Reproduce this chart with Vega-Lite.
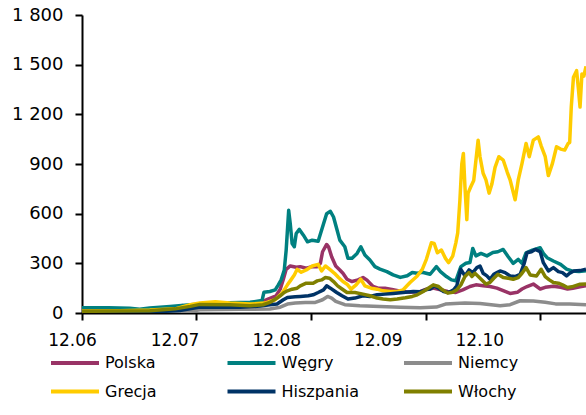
{
  "$schema": "https://vega.github.io/schema/vega-lite/v6.json",
  "width": 504,
  "height": 298,
  "autosize": {"type": "none"},
  "padding": {"left": 82, "top": 15, "right": 0, "bottom": 102},
  "background": "white",
  "config": {"view": {"stroke": null}, "font": "DejaVu Sans"},
  "data": {"values": [
    {"d":"2006-12-01","s":"Polska","v":15},{"d":"2007-04-01","s":"Polska","v":16},{"d":"2007-07-05","s":"Polska","v":18},{"d":"2007-09-24","s":"Polska","v":30},{"d":"2007-10-16","s":"Polska","v":45},{"d":"2007-10-28","s":"Polska","v":30},{"d":"2007-12-12","s":"Polska","v":45},{"d":"2008-03-17","s":"Polska","v":45},{"d":"2008-06-05","s":"Polska","v":55},{"d":"2008-06-30","s":"Polska","v":70},{"d":"2008-07-16","s":"Polska","v":84},{"d":"2008-08-11","s":"Polska","v":104},{"d":"2008-08-24","s":"Polska","v":144},{"d":"2008-09-03","s":"Polska","v":204},{"d":"2008-09-12","s":"Polska","v":264},{"d":"2008-09-25","s":"Polska","v":284},{"d":"2008-10-14","s":"Polska","v":276},{"d":"2008-10-27","s":"Polska","v":280},{"d":"2008-11-15","s":"Polska","v":270},{"d":"2008-12-04","s":"Polska","v":280},{"d":"2008-12-20","s":"Polska","v":280},{"d":"2008-12-30","s":"Polska","v":300},{"d":"2009-01-06","s":"Polska","v":370},{"d":"2009-01-19","s":"Polska","v":414},{"d":"2009-01-25","s":"Polska","v":400},{"d":"2009-02-04","s":"Polska","v":340},{"d":"2009-02-17","s":"Polska","v":284},{"d":"2009-03-02","s":"Polska","v":260},{"d":"2009-03-12","s":"Polska","v":240},{"d":"2009-03-25","s":"Polska","v":204},{"d":"2009-04-10","s":"Polska","v":190},{"d":"2009-04-29","s":"Polska","v":200},{"d":"2009-05-15","s":"Polska","v":214},{"d":"2009-05-27","s":"Polska","v":200},{"d":"2009-06-16","s":"Polska","v":160},{"d":"2009-07-02","s":"Polska","v":150},{"d":"2009-07-24","s":"Polska","v":150},{"d":"2009-08-19","s":"Polska","v":140},{"d":"2009-09-11","s":"Polska","v":132},{"d":"2009-10-12","s":"Polska","v":126},{"d":"2009-11-14","s":"Polska","v":130},{"d":"2009-12-03","s":"Polska","v":144},{"d":"2009-12-25","s":"Polska","v":150},{"d":"2010-01-17","s":"Polska","v":140},{"d":"2010-02-09","s":"Polska","v":130},{"d":"2010-03-07","s":"Polska","v":124},{"d":"2010-03-29","s":"Polska","v":140},{"d":"2010-04-21","s":"Polska","v":160},{"d":"2010-05-10","s":"Polska","v":170},{"d":"2010-06-02","s":"Polska","v":165},{"d":"2010-06-24","s":"Polska","v":160},{"d":"2010-07-16","s":"Polska","v":150},{"d":"2010-08-05","s":"Polska","v":135},{"d":"2010-08-27","s":"Polska","v":118},{"d":"2010-09-19","s":"Polska","v":125},{"d":"2010-10-04","s":"Polska","v":145},{"d":"2010-10-20","s":"Polska","v":160},{"d":"2010-11-09","s":"Polska","v":175},{"d":"2010-12-01","s":"Polska","v":145},{"d":"2010-12-17","s":"Polska","v":155},{"d":"2011-01-12","s":"Polska","v":162},{"d":"2011-02-04","s":"Polska","v":155},{"d":"2011-02-26","s":"Polska","v":145},{"d":"2011-03-15","s":"Polska","v":150},{"d":"2011-04-07","s":"Polska","v":158},{"d":"2011-04-26","s":"Polska","v":164},

    {"d":"2006-12-01","s":"Węgry","v":32},{"d":"2007-02-23","s":"Węgry","v":32},{"d":"2007-05-02","s":"Węgry","v":28},{"d":"2007-06-03","s":"Węgry","v":22},{"d":"2007-07-05","s":"Węgry","v":30},{"d":"2007-09-08","s":"Węgry","v":40},{"d":"2007-11-11","s":"Węgry","v":50},{"d":"2008-02-15","s":"Węgry","v":60},{"d":"2008-05-20","s":"Węgry","v":65},{"d":"2008-06-27","s":"Węgry","v":75},{"d":"2008-07-03","s":"Węgry","v":125},{"d":"2008-07-22","s":"Węgry","v":130},{"d":"2008-08-08","s":"Węgry","v":140},{"d":"2008-08-18","s":"Węgry","v":170},{"d":"2008-08-27","s":"Węgry","v":200},{"d":"2008-09-06","s":"Węgry","v":260},{"d":"2008-09-12","s":"Węgry","v":380},{"d":"2008-09-20","s":"Węgry","v":620},{"d":"2008-09-25","s":"Węgry","v":540},{"d":"2008-10-01","s":"Węgry","v":420},{"d":"2008-10-08","s":"Węgry","v":400},{"d":"2008-10-14","s":"Węgry","v":480},{"d":"2008-10-24","s":"Węgry","v":505},{"d":"2008-11-06","s":"Węgry","v":470},{"d":"2008-11-19","s":"Węgry","v":430},{"d":"2008-12-04","s":"Węgry","v":440},{"d":"2008-12-23","s":"Węgry","v":434},{"d":"2009-01-06","s":"Węgry","v":520},{"d":"2009-01-19","s":"Węgry","v":600},{"d":"2009-01-31","s":"Węgry","v":614},{"d":"2009-02-10","s":"Węgry","v":580},{"d":"2009-02-20","s":"Węgry","v":510},{"d":"2009-03-02","s":"Węgry","v":440},{"d":"2009-03-18","s":"Węgry","v":400},{"d":"2009-03-28","s":"Węgry","v":330},{"d":"2009-04-10","s":"Węgry","v":330},{"d":"2009-04-26","s":"Węgry","v":360},{"d":"2009-05-08","s":"Węgry","v":400},{"d":"2009-05-21","s":"Węgry","v":350},{"d":"2009-06-06","s":"Węgry","v":320},{"d":"2009-06-22","s":"Węgry","v":280},{"d":"2009-07-08","s":"Węgry","v":265},{"d":"2009-07-30","s":"Węgry","v":250},{"d":"2009-08-19","s":"Węgry","v":230},{"d":"2009-09-11","s":"Węgry","v":215},{"d":"2009-10-03","s":"Węgry","v":225},{"d":"2009-10-19","s":"Węgry","v":245},{"d":"2009-11-04","s":"Węgry","v":240},{"d":"2009-11-20","s":"Węgry","v":246},{"d":"2009-12-15","s":"Węgry","v":234},{"d":"2010-01-04","s":"Węgry","v":280},{"d":"2010-01-17","s":"Węgry","v":250},{"d":"2010-02-05","s":"Węgry","v":220},{"d":"2010-02-21","s":"Węgry","v":200},{"d":"2010-03-07","s":"Węgry","v":195},{"d":"2010-03-23","s":"Węgry","v":280},{"d":"2010-04-08","s":"Węgry","v":300},{"d":"2010-04-21","s":"Węgry","v":305},{"d":"2010-04-30","s":"Węgry","v":390},{"d":"2010-05-10","s":"Węgry","v":345},{"d":"2010-05-26","s":"Węgry","v":360},{"d":"2010-06-14","s":"Węgry","v":345},{"d":"2010-07-03","s":"Węgry","v":365},{"d":"2010-07-19","s":"Węgry","v":370},{"d":"2010-08-05","s":"Węgry","v":384},{"d":"2010-08-21","s":"Węgry","v":340},{"d":"2010-09-06","s":"Węgry","v":300},{"d":"2010-09-22","s":"Węgry","v":324},{"d":"2010-10-04","s":"Węgry","v":300},{"d":"2010-10-17","s":"Węgry","v":364},{"d":"2010-11-06","s":"Węgry","v":380},{"d":"2010-12-01","s":"Węgry","v":394},{"d":"2010-12-11","s":"Węgry","v":360},{"d":"2010-12-23","s":"Węgry","v":334},{"d":"2011-01-12","s":"Węgry","v":314},{"d":"2011-02-04","s":"Węgry","v":294},{"d":"2011-02-23","s":"Węgry","v":265},{"d":"2011-03-12","s":"Węgry","v":254},{"d":"2011-04-04","s":"Węgry","v":250},{"d":"2011-04-26","s":"Węgry","v":255},

    {"d":"2006-12-01","s":"Niemcy","v":4},{"d":"2007-07-05","s":"Niemcy","v":5},{"d":"2007-11-11","s":"Niemcy","v":10},{"d":"2007-12-12","s":"Niemcy","v":20},{"d":"2008-04-18","s":"Niemcy","v":22},{"d":"2008-07-22","s":"Niemcy","v":24},{"d":"2008-08-24","s":"Niemcy","v":35},{"d":"2008-09-16","s":"Niemcy","v":54},{"d":"2008-10-11","s":"Niemcy","v":60},{"d":"2008-11-12","s":"Niemcy","v":64},{"d":"2008-12-14","s":"Niemcy","v":64},{"d":"2009-01-06","s":"Niemcy","v":80},{"d":"2009-01-22","s":"Niemcy","v":100},{"d":"2009-02-04","s":"Niemcy","v":90},{"d":"2009-02-17","s":"Niemcy","v":70},{"d":"2009-03-18","s":"Niemcy","v":50},{"d":"2009-05-05","s":"Niemcy","v":44},{"d":"2009-07-08","s":"Niemcy","v":40},{"d":"2009-09-11","s":"Niemcy","v":35},{"d":"2009-11-14","s":"Niemcy","v":32},{"d":"2010-01-04","s":"Niemcy","v":36},{"d":"2010-02-02","s":"Niemcy","v":54},{"d":"2010-03-04","s":"Niemcy","v":58},{"d":"2010-04-05","s":"Niemcy","v":60},{"d":"2010-05-23","s":"Niemcy","v":58},{"d":"2010-07-26","s":"Niemcy","v":44},{"d":"2010-08-27","s":"Niemcy","v":50},{"d":"2010-09-28","s":"Niemcy","v":74},{"d":"2010-11-09","s":"Niemcy","v":72},{"d":"2010-12-17","s":"Niemcy","v":65},{"d":"2011-01-19","s":"Niemcy","v":55},{"d":"2011-03-05","s":"Niemcy","v":55},{"d":"2011-04-26","s":"Niemcy","v":50},

    {"d":"2006-12-01","s":"Grecja","v":12},{"d":"2007-04-01","s":"Grecja","v":14},{"d":"2007-07-05","s":"Grecja","v":18},{"d":"2007-09-24","s":"Grecja","v":25},{"d":"2007-11-11","s":"Grecja","v":50},{"d":"2007-12-12","s":"Grecja","v":60},{"d":"2008-01-30","s":"Grecja","v":68},{"d":"2008-03-17","s":"Grecja","v":60},{"d":"2008-05-20","s":"Grecja","v":54},{"d":"2008-07-06","s":"Grecja","v":60},{"d":"2008-08-08","s":"Grecja","v":80},{"d":"2008-08-30","s":"Grecja","v":120},{"d":"2008-09-16","s":"Grecja","v":170},{"d":"2008-09-25","s":"Grecja","v":194},{"d":"2008-10-08","s":"Grecja","v":230},{"d":"2008-10-17","s":"Grecja","v":264},{"d":"2008-10-30","s":"Grecja","v":246},{"d":"2008-11-15","s":"Grecja","v":260},{"d":"2008-12-04","s":"Grecja","v":284},{"d":"2008-12-23","s":"Grecja","v":294},{"d":"2009-01-03","s":"Grecja","v":254},{"d":"2009-01-15","s":"Grecja","v":284},{"d":"2009-01-31","s":"Grecja","v":260},{"d":"2009-02-13","s":"Grecja","v":240},{"d":"2009-02-26","s":"Grecja","v":214},{"d":"2009-03-12","s":"Grecja","v":190},{"d":"2009-03-25","s":"Grecja","v":174},{"d":"2009-04-07","s":"Grecja","v":144},{"d":"2009-04-23","s":"Grecja","v":170},{"d":"2009-05-08","s":"Grecja","v":204},{"d":"2009-05-21","s":"Grecja","v":164},{"d":"2009-06-10","s":"Grecja","v":150},{"d":"2009-06-29","s":"Grecja","v":144},{"d":"2009-07-18","s":"Grecja","v":134},{"d":"2009-08-10","s":"Grecja","v":130},{"d":"2009-09-01","s":"Grecja","v":130},{"d":"2009-09-20","s":"Grecja","v":140},{"d":"2009-10-12","s":"Grecja","v":184},{"d":"2009-11-04","s":"Grecja","v":224},{"d":"2009-11-20","s":"Grecja","v":264},{"d":"2009-12-03","s":"Grecja","v":324},{"d":"2009-12-19","s":"Grecja","v":424},{"d":"2009-12-28","s":"Grecja","v":420},{"d":"2010-01-07","s":"Grecja","v":364},{"d":"2010-01-20","s":"Grecja","v":380},{"d":"2010-02-02","s":"Grecja","v":330},{"d":"2010-02-12","s":"Grecja","v":304},{"d":"2010-02-25","s":"Grecja","v":344},{"d":"2010-03-07","s":"Grecja","v":424},{"d":"2010-03-13","s":"Grecja","v":484},{"d":"2010-03-20","s":"Grecja","v":684},{"d":"2010-03-26","s":"Grecja","v":900},{"d":"2010-03-31","s":"Grecja","v":964},{"d":"2010-04-05","s":"Grecja","v":764},{"d":"2010-04-11","s":"Grecja","v":564},{"d":"2010-04-15","s":"Grecja","v":724},{"d":"2010-04-24","s":"Grecja","v":764},{"d":"2010-05-03","s":"Grecja","v":800},{"d":"2010-05-17","s":"Grecja","v":1044},{"d":"2010-05-23","s":"Grecja","v":944},{"d":"2010-06-02","s":"Grecja","v":844},{"d":"2010-06-11","s":"Grecja","v":804},{"d":"2010-06-21","s":"Grecja","v":724},{"d":"2010-06-30","s":"Grecja","v":780},{"d":"2010-07-10","s":"Grecja","v":880},{"d":"2010-07-22","s":"Grecja","v":944},{"d":"2010-08-05","s":"Grecja","v":924},{"d":"2010-08-18","s":"Grecja","v":850},{"d":"2010-08-27","s":"Grecja","v":804},{"d":"2010-09-12","s":"Grecja","v":684},{"d":"2010-09-22","s":"Grecja","v":804},{"d":"2010-10-04","s":"Grecja","v":904},{"d":"2010-10-17","s":"Grecja","v":1024},{"d":"2010-10-27","s":"Grecja","v":944},{"d":"2010-11-09","s":"Grecja","v":1044},{"d":"2010-11-25","s":"Grecja","v":1064},{"d":"2010-12-04","s":"Grecja","v":1010},{"d":"2010-12-17","s":"Grecja","v":944},{"d":"2010-12-27","s":"Grecja","v":830},{"d":"2011-01-09","s":"Grecja","v":904},{"d":"2011-01-22","s":"Grecja","v":1004},{"d":"2011-02-04","s":"Grecja","v":990},{"d":"2011-02-17","s":"Grecja","v":984},{"d":"2011-02-28","s":"Grecja","v":1024},{"d":"2011-03-05","s":"Grecja","v":1030},{"d":"2011-03-10","s":"Grecja","v":1244},{"d":"2011-03-17","s":"Grecja","v":1424},{"d":"2011-03-27","s":"Grecja","v":1464},{"d":"2011-04-02","s":"Grecja","v":1350},{"d":"2011-04-07","s":"Grecja","v":1244},{"d":"2011-04-13","s":"Grecja","v":1444},{"d":"2011-04-19","s":"Grecja","v":1430},{"d":"2011-04-26","s":"Grecja","v":1490},

    {"d":"2006-12-01","s":"Hiszpania","v":4},{"d":"2007-07-05","s":"Hiszpania","v":5},{"d":"2007-10-09","s":"Hiszpania","v":15},{"d":"2007-12-12","s":"Hiszpania","v":36},{"d":"2008-04-18","s":"Hiszpania","v":35},{"d":"2008-06-21","s":"Hiszpania","v":42},{"d":"2008-07-22","s":"Hiszpania","v":50},{"d":"2008-08-14","s":"Hiszpania","v":54},{"d":"2008-09-03","s":"Hiszpania","v":80},{"d":"2008-09-16","s":"Hiszpania","v":94},{"d":"2008-10-11","s":"Hiszpania","v":98},{"d":"2008-10-27","s":"Hiszpania","v":100},{"d":"2008-11-22","s":"Hiszpania","v":104},{"d":"2008-12-07","s":"Hiszpania","v":110},{"d":"2008-12-23","s":"Hiszpania","v":124},{"d":"2009-01-09","s":"Hiszpania","v":140},{"d":"2009-01-19","s":"Hiszpania","v":164},{"d":"2009-01-31","s":"Hiszpania","v":150},{"d":"2009-02-20","s":"Hiszpania","v":124},{"d":"2009-03-09","s":"Hiszpania","v":104},{"d":"2009-03-28","s":"Hiszpania","v":84},{"d":"2009-04-19","s":"Hiszpania","v":90},{"d":"2009-05-15","s":"Hiszpania","v":104},{"d":"2009-06-06","s":"Hiszpania","v":100},{"d":"2009-06-29","s":"Hiszpania","v":110},{"d":"2009-07-24","s":"Hiszpania","v":114},{"d":"2009-08-19","s":"Hiszpania","v":118},{"d":"2009-09-20","s":"Hiszpania","v":124},{"d":"2009-10-22","s":"Hiszpania","v":130},{"d":"2009-11-14","s":"Hiszpania","v":128},{"d":"2009-11-30","s":"Hiszpania","v":140},{"d":"2009-12-15","s":"Hiszpania","v":145},{"d":"2009-12-28","s":"Hiszpania","v":164},{"d":"2010-01-11","s":"Hiszpania","v":150},{"d":"2010-01-27","s":"Hiszpania","v":130},{"d":"2010-02-12","s":"Hiszpania","v":124},{"d":"2010-02-28","s":"Hiszpania","v":140},{"d":"2010-03-10","s":"Hiszpania","v":164},{"d":"2010-03-23","s":"Hiszpania","v":264},{"d":"2010-04-05","s":"Hiszpania","v":224},{"d":"2010-04-18","s":"Hiszpania","v":260},{"d":"2010-04-30","s":"Hiszpania","v":244},{"d":"2010-05-13","s":"Hiszpania","v":274},{"d":"2010-05-23","s":"Hiszpania","v":284},{"d":"2010-06-02","s":"Hiszpania","v":240},{"d":"2010-06-14","s":"Hiszpania","v":224},{"d":"2010-06-24","s":"Hiszpania","v":204},{"d":"2010-07-06","s":"Hiszpania","v":234},{"d":"2010-07-16","s":"Hiszpania","v":244},{"d":"2010-07-26","s":"Hiszpania","v":254},{"d":"2010-08-11","s":"Hiszpania","v":244},{"d":"2010-08-27","s":"Hiszpania","v":224},{"d":"2010-09-12","s":"Hiszpania","v":220},{"d":"2010-09-28","s":"Hiszpania","v":234},{"d":"2010-10-11","s":"Hiszpania","v":300},{"d":"2010-10-20","s":"Hiszpania","v":364},{"d":"2010-11-03","s":"Hiszpania","v":370},{"d":"2010-11-15","s":"Hiszpania","v":384},{"d":"2010-12-01","s":"Hiszpania","v":370},{"d":"2010-12-11","s":"Hiszpania","v":304},{"d":"2010-12-27","s":"Hiszpania","v":254},{"d":"2011-01-12","s":"Hiszpania","v":274},{"d":"2011-01-28","s":"Hiszpania","v":250},{"d":"2011-02-10","s":"Hiszpania","v":244},{"d":"2011-02-23","s":"Hiszpania","v":224},{"d":"2011-03-05","s":"Hiszpania","v":240},{"d":"2011-03-18","s":"Hiszpania","v":254},{"d":"2011-04-07","s":"Hiszpania","v":256},{"d":"2011-04-26","s":"Hiszpania","v":264},

    {"d":"2006-12-01","s":"Włochy","v":10},{"d":"2007-04-01","s":"Włochy","v":12},{"d":"2007-07-05","s":"Włochy","v":14},{"d":"2007-09-24","s":"Włochy","v":25},{"d":"2007-11-11","s":"Włochy","v":40},{"d":"2007-12-12","s":"Włochy","v":52},{"d":"2008-03-17","s":"Włochy","v":50},{"d":"2008-05-20","s":"Włochy","v":44},{"d":"2008-06-30","s":"Włochy","v":50},{"d":"2008-07-22","s":"Włochy","v":64},{"d":"2008-08-14","s":"Włochy","v":90},{"d":"2008-08-24","s":"Włochy","v":104},{"d":"2008-09-06","s":"Włochy","v":124},{"d":"2008-09-16","s":"Włochy","v":134},{"d":"2008-10-01","s":"Włochy","v":144},{"d":"2008-10-17","s":"Włochy","v":150},{"d":"2008-10-27","s":"Włochy","v":164},{"d":"2008-11-15","s":"Włochy","v":180},{"d":"2008-12-07","s":"Włochy","v":180},{"d":"2008-12-20","s":"Włochy","v":194},{"d":"2009-01-03","s":"Włochy","v":200},{"d":"2009-01-15","s":"Włochy","v":214},{"d":"2009-01-28","s":"Włochy","v":210},{"d":"2009-02-10","s":"Włochy","v":190},{"d":"2009-02-23","s":"Włochy","v":164},{"d":"2009-03-09","s":"Włochy","v":145},{"d":"2009-03-25","s":"Włochy","v":124},{"d":"2009-04-19","s":"Włochy","v":124},{"d":"2009-05-15","s":"Włochy","v":114},{"d":"2009-06-06","s":"Włochy","v":104},{"d":"2009-06-29","s":"Włochy","v":90},{"d":"2009-07-18","s":"Włochy","v":84},{"d":"2009-08-10","s":"Włochy","v":80},{"d":"2009-09-01","s":"Włochy","v":84},{"d":"2009-09-27","s":"Włochy","v":92},{"d":"2009-10-19","s":"Włochy","v":100},{"d":"2009-11-04","s":"Włochy","v":110},{"d":"2009-11-23","s":"Włochy","v":130},{"d":"2009-12-09","s":"Włochy","v":150},{"d":"2009-12-25","s":"Włochy","v":170},{"d":"2010-01-11","s":"Włochy","v":160},{"d":"2010-01-23","s":"Włochy","v":140},{"d":"2010-02-09","s":"Włochy","v":120},{"d":"2010-02-25","s":"Włochy","v":125},{"d":"2010-03-10","s":"Włochy","v":140},{"d":"2010-03-23","s":"Włochy","v":170},{"d":"2010-04-05","s":"Włochy","v":220},{"d":"2010-04-18","s":"Włochy","v":244},{"d":"2010-04-27","s":"Włochy","v":220},{"d":"2010-05-07","s":"Włochy","v":240},{"d":"2010-05-16","s":"Włochy","v":224},{"d":"2010-05-29","s":"Włochy","v":200},{"d":"2010-06-11","s":"Włochy","v":175},{"d":"2010-06-24","s":"Włochy","v":185},{"d":"2010-07-06","s":"Włochy","v":210},{"d":"2010-07-19","s":"Włochy","v":234},{"d":"2010-08-05","s":"Włochy","v":214},{"d":"2010-08-21","s":"Włochy","v":210},{"d":"2010-09-06","s":"Włochy","v":204},{"d":"2010-09-22","s":"Włochy","v":214},{"d":"2010-10-04","s":"Włochy","v":240},{"d":"2010-10-17","s":"Włochy","v":274},{"d":"2010-10-30","s":"Włochy","v":230},{"d":"2010-11-19","s":"Włochy","v":224},{"d":"2010-12-04","s":"Włochy","v":264},{"d":"2010-12-17","s":"Włochy","v":220},{"d":"2010-12-30","s":"Włochy","v":200},{"d":"2011-01-12","s":"Włochy","v":184},{"d":"2011-01-28","s":"Włochy","v":180},{"d":"2011-02-10","s":"Włochy","v":170},{"d":"2011-02-26","s":"Włochy","v":154},{"d":"2011-03-12","s":"Włochy","v":158},{"d":"2011-04-07","s":"Włochy","v":174},{"d":"2011-04-26","s":"Włochy","v":175}
  ]},
  "mark": {"type": "line", "strokeWidth": 3.5, "strokeJoin": "round", "clip": true},
  "encoding": {
    "x": {
      "field": "d", "type": "temporal",
      "scale": {"type": "utc", "domain": [{"year": 2006, "month": 12, "date": 1, "utc": true}, {"year": 2011, "month": 4, "date": 26, "utc": true}]},
      "axis": {
        "title": null,
        "grid": false,
        "values": [{"year": 2006, "month": 12, "date": 1, "utc": true}, {"year": 2007, "month": 12, "date": 1, "utc": true}, {"year": 2008, "month": 12, "date": 1, "utc": true}, {"year": 2009, "month": 12, "date": 1, "utc": true}, {"year": 2010, "month": 12, "date": 1, "utc": true}],
        "labelExpr": "utcFormat(datum.value, '%m.%y')",
        "labelFont": "DejaVu Sans", "labelFontSize": 17, "labelColor": "black",
        "labelPadding": 12,
        "labelOffset": {"condition": [
          {"test": "utcyear(datum.value) == 2006", "value": -10},
          {"test": "utcyear(datum.value) == 2007", "value": -22},
          {"test": "utcyear(datum.value) == 2008", "value": -35},
          {"test": "utcyear(datum.value) == 2009", "value": -48}
        ], "value": -61},
        "labelFlush": false, "labelOverlap": false,
        "domainColor": "black", "domainWidth": 2,
        "tickColor": "black", "tickWidth": 2, "tickSize": 7
      }
    },
    "y": {
      "field": "v", "type": "quantitative",
      "scale": {"domain": [0, 1800], "nice": false},
      "axis": {
        "title": null, "grid": false,
        "values": [0, 300, 600, 900, 1200, 1500, 1800],
        "labelExpr": "replace(format(datum.value, ','), ',', ' ')",
        "labelFont": "DejaVu Sans", "labelFontSize": 18, "labelColor": "black",
        "labelPadding": 12,
        "domainColor": "black", "domainWidth": 2,
        "tickColor": "black", "tickWidth": 2, "tickSize": 7
      }
    },
    "color": {
      "field": "s", "type": "nominal",
      "scale": {"domain": ["Polska", "Węgry", "Niemcy", "Grecja", "Hiszpania", "Włochy"], "range": ["#993366", "#008080", "#8c8c8c", "#ffcc00", "#003366", "#808000"]},
      "legend": {
        "title": null, "orient": "none", "legendX": -17, "legendY": 338,
        "columns": 3, "direction": "horizontal",
        "symbolType": "M-3,0H3", "symbolSize": 256, "symbolStrokeWidth": 4,
        "labelFont": "DejaVu Sans", "labelFontSize": 16, "labelColor": "black",
        "labelOffset": 20, "gridAlign": "all", "columnPadding": 36.5, "rowPadding": 10.5,
        "labelLimit": 200
      }
    }
  }
}
